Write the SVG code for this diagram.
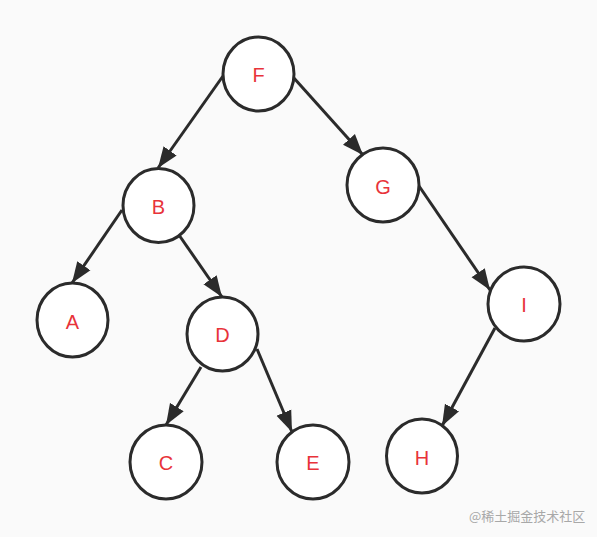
<svg xmlns="http://www.w3.org/2000/svg" width="597" height="537" viewBox="0 0 597 537">
<defs>
<style>
.n ellipse{fill:#fff;stroke:#2b2b2b;stroke-width:3}
.n text{fill:#e8333a;font-family:"Liberation Sans",Arial,sans-serif;font-size:20px;text-anchor:middle;dominant-baseline:central}
.e line{stroke:#2b2b2b;stroke-width:3;marker-end:url(#ah)}
.wm{fill:#a8a8a8;font-family:"Noto Sans CJK SC","Liberation Sans",sans-serif;font-size:13px}
</style>
<marker id="ah" markerUnits="userSpaceOnUse" markerWidth="22" markerHeight="18" viewBox="0 0 22 18" refX="21" refY="9" orient="auto">
<path d="M0,1 L21,9 L0,17 Z" fill="#2b2b2b"/>
</marker>
</defs>
<rect width="597" height="537" fill="#fafafa"/>
<g id="edges" class="e">
<line x1="223" y1="76" x2="158" y2="168"/>
<line x1="293" y1="77" x2="363" y2="155"/>
<line x1="122" y1="210" x2="72" y2="283"/>
<line x1="179" y1="235" x2="222" y2="297"/>
<line x1="419" y1="186" x2="490" y2="290"/>
<line x1="201" y1="367" x2="166" y2="425"/>
<line x1="257" y1="349" x2="292" y2="432"/>
<line x1="495" y1="328" x2="442" y2="426"/>
</g>
<g id="F" class="n"><ellipse cx="258.5" cy="74" rx="35.5" ry="37"/><text x="258.5" y="75">F</text></g>
<g id="B" class="n"><ellipse cx="158.5" cy="205.5" rx="35.5" ry="37"/><text x="158.5" y="207">B</text></g>
<g id="G" class="n"><ellipse cx="383" cy="185" rx="36" ry="37"/><text x="383" y="187">G</text></g>
<g id="A" class="n"><ellipse cx="72.5" cy="320" rx="35.5" ry="37"/><text x="72.5" y="322">A</text></g>
<g id="D" class="n"><ellipse cx="222.5" cy="334" rx="35.5" ry="37"/><text x="222.5" y="335">D</text></g>
<g id="I" class="n"><ellipse cx="524" cy="304" rx="36" ry="37"/><text x="524" y="305">I</text></g>
<g id="C" class="n"><ellipse cx="166" cy="462" rx="36" ry="37"/><text x="166" y="463">C</text></g>
<g id="E" class="n"><ellipse cx="313" cy="462" rx="36" ry="37"/><text x="313" y="463">E</text></g>
<g id="H" class="n"><ellipse cx="422" cy="456" rx="35.5" ry="37"/><text x="422" y="458">H</text></g>
<text class="wm" x="469" y="521">@稀土掘金技术社区</text>
</svg>
